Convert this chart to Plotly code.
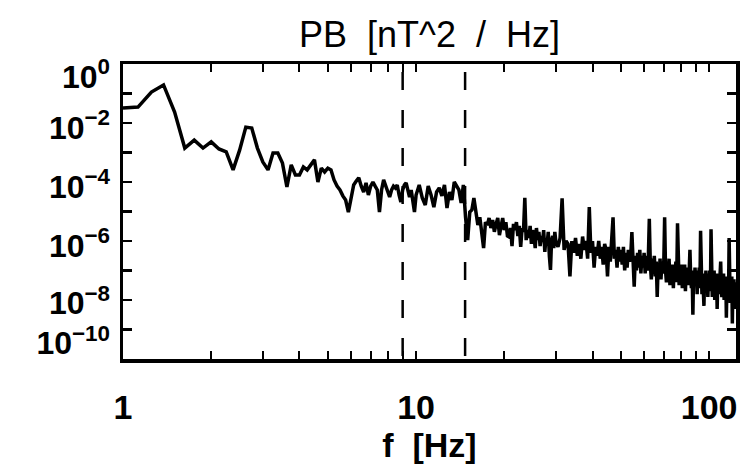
import numpy as np
import plotly.graph_objects as go

# ---------------- data ----------------
# frequency bins [Hz]
freq_lo = np.arange(1.0, 10.0001, 0.125)      # 1 .. 10 Hz
freq_mid = np.arange(10.25, 30.0001, 0.25)     # 10.25 .. 30 Hz
freq_hi = np.arange(30.5, 124.0001, 0.5)       # 30.5 .. 124 Hz

# log10 of power spectral density PB [nT^2/Hz]
log_pb_lo = [
    -1.49, -1.46, -0.95, -0.71, -1.63, -2.85, -2.58, -2.85, -2.64, -2.88,
    -2.98, -3.59, -2.92, -2.14, -2.17, -2.85, -3.32, -3.59, -3.02, -3.02,
    -3.36, -4.17, -3.42, -3.76, -3.76, -3.49, -3.59, -3.42, -3.25, -4.00,
    -3.53, -3.66, -3.53, -3.59, -3.93, -4.14, -4.27, -4.47, -4.61, -5.02,
    -4.51, -4.10, -3.97, -3.86, -4.14, -4.34, -4.03, -4.44, -4.14, -4.00,
    -4.14, -4.27, -5.02, -4.27, -3.93, -4.14, -4.34, -4.51, -4.27, -4.14,
    -4.20, -4.10, -4.44, -4.68, -4.27, -4.10, -4.03, -4.34, -4.51, -4.27,
    -4.61, -5.02, -4.44,
]
log_pb_mid = [
    -4.10, -4.54, -4.78, -4.14, -4.44, -4.85, -4.34, -4.20, -4.47, -4.10,
    -4.88, -4.34, -4.61, -4.00, -4.14, -4.27, -4.71, -4.10, -5.19, -5.97,
    -5.02, -4.95, -4.54, -5.12, -5.46, -5.19, -5.63, -6.24, -5.36, -5.46,
    -5.22, -5.56, -5.29, -5.69, -5.42, -5.22, -5.80, -5.49, -5.22, -5.63,
    -5.36, -5.83, -5.86, -5.56, -6.17, -5.42, -5.63, -5.36, -5.83, -5.49,
    -6.20, -5.56, -5.69, -4.54, -5.97, -5.63, -5.90, -5.49, -6.10, -5.63,
    -5.83, -6.24, -5.56, -5.97, -5.69, -6.17, -5.83, -6.03, -5.63, -6.37,
    -5.90, -6.10, -5.69, -6.51, -6.98, -5.97, -5.83, -6.24, -5.69, -6.03,
]
log_pb_hi = [
    # 30.5 .. 40
    -6.2, -5.9, -4.55, -6.3, -6.0, -6.1, -7.2, -6.0, -6.4, -5.9,
    -6.5, -6.1, -6.6, -5.85, -6.3, -6.0, -6.6, -4.85, -6.4, -6.0,
    # 40.5 .. 50
    -6.9, -6.2, -6.5, -6.0, -6.6, -6.2, -6.8, -6.1, -6.3, -7.2,
    -6.2, -6.7, -6.1, -5.2, -6.6, -6.3, -6.9, -6.2, -6.7, -6.3,
    # 50.5 .. 60
    -6.8, -6.2, -7.0, -6.4, -6.9, -6.3, -6.7, -6.5, -5.7, -6.7,
    -7.55, -6.5, -7.0, -6.4, -6.9, -6.3, -7.1, -6.5, -6.9, -6.4,
    # 60.5 .. 70
    -7.1, -6.5, -7.0, -6.6, -5.25, -6.8, -7.3, -6.6, -7.0, -6.5,
    -7.2, -6.7, -7.9, -6.8, -7.2, -6.6, -7.3, -6.7, -7.1, -6.8,
    # 70.5 .. 80
    -5.2, -7.0, -7.4, -6.7, -7.2, -6.6, -7.5, -6.8, -7.3, -6.9,
    -7.6, -6.8, -7.2, -6.7, -7.4, -5.4, -7.1, -7.5, -6.9, -7.3,
    # 80.5 .. 90
    -6.8, -7.6, -7.0, -7.4, -6.8, -7.7, -7.0, -7.3, -6.9, -7.5,
    -7.0, -6.3, -7.2, -7.6, -7.0, -8.5, -7.1, -7.5, -6.9, -7.4,
    # 90.5 .. 100
    -7.0, -7.8, -7.1, -7.5, -6.9, -7.6, -5.65, -7.3, -7.8, -7.1,
    -7.5, -8.2, -7.2, -7.6, -7.0, -7.7, -7.2, -7.9, -7.1, -7.5,
    # 100.5 .. 110
    -7.0, -7.7, -5.6, -7.4, -7.9, -7.2, -7.6, -7.0, -8.0, -7.3,
    -7.7, -7.1, -8.3, -7.4, -7.8, -7.2, -7.6, -7.1, -6.7, -7.5,
    # 110.5 .. 124
    -7.9, -7.3, -7.7, -7.1, -8.0, -7.4, -7.8, -7.2, -8.6, -7.5,
    -7.9, -7.3, -7.7, -5.9, -7.6, -8.1, -7.4, -7.8, -7.2, -8.8,
    -7.5, -8.0, -7.3, -7.9, -7.4, -8.3, -7.6, -7.9,
]

assert len(freq_lo) == len(log_pb_lo)
assert len(freq_mid) == len(log_pb_mid)
assert len(freq_hi) == len(log_pb_hi)

freq = np.concatenate([freq_lo, freq_mid, freq_hi])
pb = 10.0 ** np.array(log_pb_lo + log_pb_mid + log_pb_hi)

# band limits marked with dashed lines [Hz]
band_limits = [9.0, 14.7]

# axis ticks
x_tick_vals = [1, 10, 100]
x_tick_text = ["1", "10", "100"]
x_minor_vals = [2, 3, 4, 5, 6, 7, 8, 9, 20, 30, 40, 50, 60, 70, 80, 90]
y_decades = [0, -1, -2, -3, -4, -5, -6, -7, -8, -9, -10]
y_label_exps = [0, -2, -4, -6, -8, -10]
# where each label is drawn (IDL pulls the end labels inside the frame)
y_label_pos = [-0.42, -2.15, -4.15, -6.15, -8.1, -9.45]
y_range_exp = [-10, 0]
x_range = [1, 123.5]

NB = "\u00a0"
title_text = "PB" + NB * 2 + "[nT^2" + NB * 2 + "/" + NB * 2 + "Hz]"
xtitle_text = "f" + NB * 2 + "[Hz]"

# ---------------- figure ----------------
fig = go.Figure()

for fb in band_limits:
    fig.add_trace(go.Scatter(
        x=[fb, fb], y=[10.0 ** y_range_exp[1], 10.0 ** y_range_exp[0]],
        mode="lines", line=dict(color="black", width=2.5, dash="0px,8px,18px,12px"),
        showlegend=False, hoverinfo="skip"))

fig.add_trace(go.Scatter(
    x=freq, y=pb, mode="lines",
    line=dict(color="black", width=3.5), showlegend=False))

# invisible trace so the label axis is drawn
fig.add_trace(go.Scatter(x=[freq[0]], y=[pb[0]], yaxis="y2", mode="lines",
                         line=dict(width=0), showlegend=False, hoverinfo="skip"))

FONT = "Liberation Sans"

fig.update_layout(
    width=743, height=469,
    margin=dict(l=123, r=3, t=64, b=110),
    paper_bgcolor="white", plot_bgcolor="white",
    title=dict(text=title_text, xref="paper", x=0.5, xanchor="center",
               yref="container", y=1 - 34 / 469, yanchor="middle",
               font=dict(family=FONT, size=36, color="black")),
    showlegend=False,
)

fig.update_xaxes(
    type="log", range=[np.log10(x_range[0]), np.log10(x_range[1])],
    showline=True, linecolor="black", linewidth=3.5, mirror="allticks",
    ticks="inside", ticklen=8, tickwidth=2.5, tickcolor="black",
    tickmode="array", tickvals=x_tick_vals, ticktext=x_tick_text,
    minor=dict(tickmode="array", tickvals=x_minor_vals, ticks="inside",
               ticklen=4, tickwidth=2, tickcolor="black", showgrid=False),
    showgrid=False, zeroline=False,
    tickfont=dict(family=FONT, size=34, color="black", weight="bold"),
    ticklabelstandoff=16,
    title=dict(text=xtitle_text, standoff=2,
               font=dict(family=FONT, size=34, color="black", weight="bold")),
)

fig.update_layout(
    yaxis=dict(
        type="log", range=y_range_exp,
        showline=True, linecolor="black", linewidth=3.5, mirror="allticks",
        ticks="inside", ticklen=9, tickwidth=2.5, tickcolor="black",
        tickmode="array", tickvals=[10.0 ** d for d in y_decades],
        showticklabels=False, showgrid=False, zeroline=False,
    ),
    yaxis2=dict(
        type="log", range=y_range_exp, overlaying="y", side="left",
        showline=False, ticks="", showgrid=False, zeroline=False,
        tickmode="array", tickvals=[10.0 ** p for p in y_label_pos],
        ticktext=["10<sup>" + str(e).replace("-", "\u2212") + "</sup>" for e in y_label_exps],
        tickfont=dict(family=FONT, size=32, color="black", weight="bold"),
        ticklabelstandoff=12,
    ),
)

fig.write_html("out.html", config={"displayModeBar": False, "staticPlot": True},
               post_script="document.body.style.margin='0px';"
                           "document.documentElement.style.overflow='hidden';")
